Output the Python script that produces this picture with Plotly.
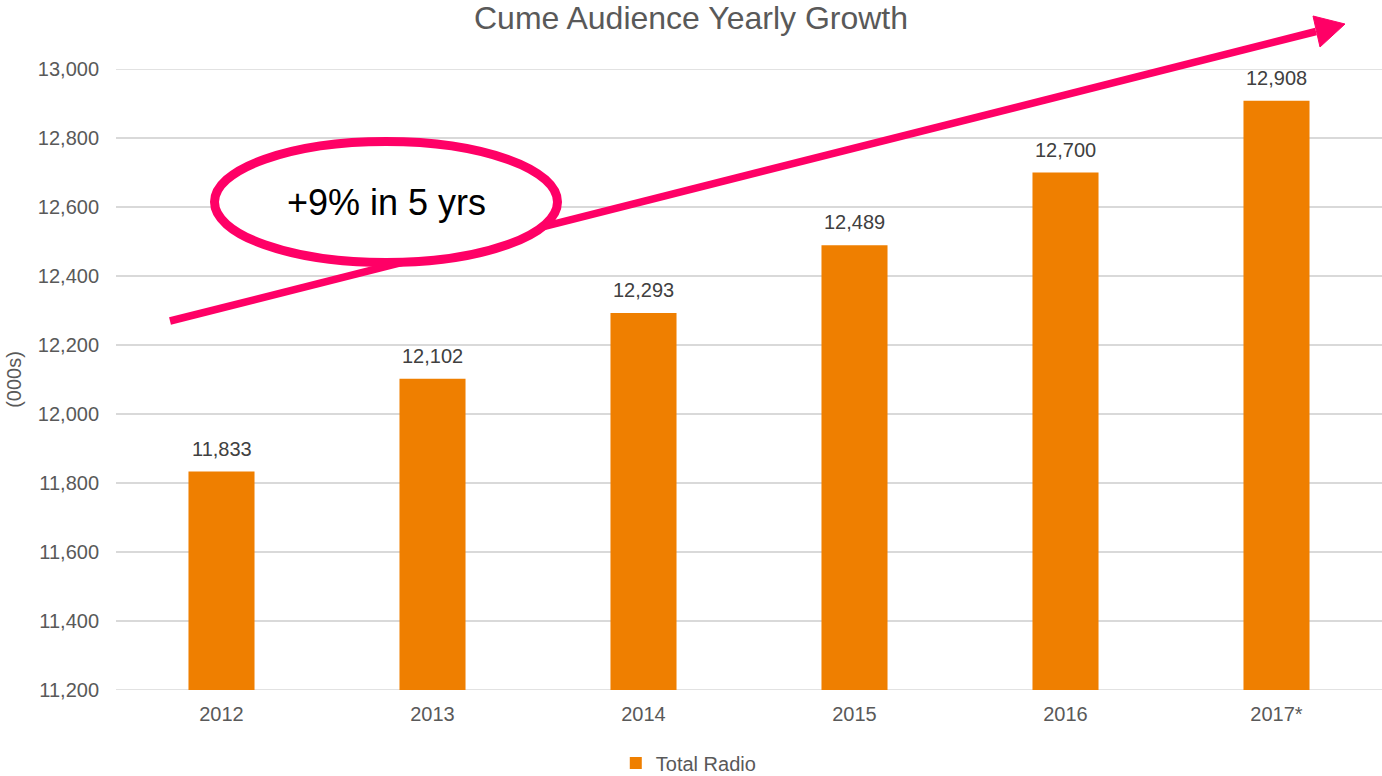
import plotly.graph_objects as go

# Chart data
years = ["2012", "2013", "2014", "2015", "2016", "2017*"]
total_radio = [11833, 12102, 12293, 12489, 12700, 12908]
y_ticks = [11200, 11400, 11600, 11800, 12000, 12200, 12400, 12600, 12800, 13000]

W, H = 1382, 776
L, R, T, B = 116, 0, 69, 86
FONT = "Liberation Sans, Arial, sans-serif"
PINK = "#FF0066"
ORANGE = "#EF7F00"
GRID = "#D9D9D9"


def px(x):
    return (x - L) / (W - L - R)


def py(y):
    return 1 - (y - T) / (H - T - B)


fig = go.Figure()
fig.add_trace(go.Bar(
    x=years, y=total_radio, name="Total Radio",
    marker=dict(color=ORANGE, line=dict(width=0)),
))

# grid lines on the range edges (plotly skips those)
for yv in (y_ticks[0], y_ticks[-1]):
    fig.add_shape(type="line", xref="paper", yref="y", x0=0, x1=1, y0=yv, y1=yv,
                  line=dict(color=GRID, width=1.5), layer="below")

# value labels above bars (category index keeps numeric-looking names safe)
for i, v in enumerate(total_radio):
    fig.add_annotation(x=i, y=v, text=f"{v:,}", showarrow=False,
                       yanchor="bottom", yshift=10,
                       font=dict(family=FONT, size=20, color="#404040"))

# growth arrow: shaft + head
base = (1316, 31.5)
fig.add_shape(type="line", xref="paper", yref="paper",
              x0=px(170), y0=py(321), x1=px(base[0]), y1=py(base[1]),
              line=dict(color=PINK, width=7.5), layer="above")
fig.add_shape(type="path", xref="paper", yref="paper",
              path=f"M {px(1345)} {py(24)} L {px(1313)} {py(16)} L {px(1320)} {py(47)} Z",
              fillcolor=PINK, line=dict(color=PINK, width=1), layer="above")

# callout ellipse
fig.add_shape(type="circle", xref="paper", yref="paper",
              x0=px(214.5), x1=px(557.5), y0=py(262.5), y1=py(141.5),
              fillcolor="white", line=dict(color=PINK, width=9), layer="above")
fig.add_annotation(xref="paper", yref="paper", x=px(386), y=py(203),
                   text="+9% in 5 yrs", showarrow=False,
                   xanchor="center", yanchor="middle",
                   font=dict(family=FONT, size=36, color="#000000"))

fig.update_layout(
    width=W, height=H,
    margin=dict(l=L, r=R, t=T, b=B),
    paper_bgcolor="white", plot_bgcolor="white",
    bargap=0.687,
    font=dict(family=FONT, size=20, color="#595959"),
    title=dict(text="Cume Audience Yearly Growth", x=0.5, xref="container",
               y=1 - 18 / H, yref="container", xanchor="center", yanchor="middle",
               font=dict(family=FONT, size=32, color="#595959")),
    showlegend=True,
    legend=dict(orientation="h", xref="container", yref="container",
                x=0.4984, y=1 - 763 / H, xanchor="center", yanchor="middle",
                font=dict(family=FONT, size=20, color="#595959"),
                itemwidth=30),
    xaxis=dict(type="category", categoryorder="array", categoryarray=years,
               showgrid=False, showline=False, zeroline=False,
               ticks="", ticklabelstandoff=10,
               tickfont=dict(family=FONT, size=20, color="#595959")),
    yaxis=dict(range=[11200, 13000], tickvals=y_ticks,
               tickformat=",d", showgrid=True, gridcolor=GRID, gridwidth=1.5,
               zeroline=False, showline=False, ticks="", ticklabelstandoff=16,
               tickfont=dict(family=FONT, size=20, color="#595959"),
               title=dict(text="(000s)", standoff=10,
                          font=dict(family=FONT, size=20, color="#595959"))),
)

fig.write_html("out.html")
